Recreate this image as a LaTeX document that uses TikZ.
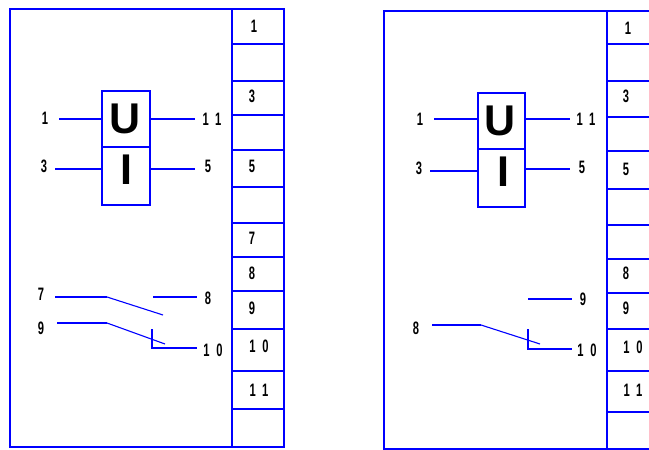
\documentclass[tikz,border=0pt]{standalone}
\usepackage{fontspec}
\setmainfont{Liberation Sans}
\newfontfamily\twodig[LetterSpace=62]{Liberation Sans}
\begin{document}
\begin{tikzpicture}[x=1pt,y=-1pt,
  wire/.style={draw=blue,line width=1.4pt},
  thinwire/.style={draw=blue,line width=1.1pt},
  lab/.style={inner sep=0pt,text=black,font=\bfseries\fontsize{18}{18}\selectfont,xscale=.62},
  labtwo/.style={inner sep=0pt,text=black,font=\twodig\bfseries\fontsize{18}{18}\selectfont,xscale=.62},
  big/.style={inner sep=0pt,text=black,font=\bfseries\fontsize{43}{43}\selectfont},
  frame/.style={wire,fill=none,rectangle,inner sep=0pt},
  pin/.style={coordinate}]
\useasboundingbox (0,0) rectangle (649,450);
% ---------- left unit ----------
\node[frame,minimum width=274pt,minimum height=438pt] (LO) at (147,228) {};
\draw[wire] (232,9) -- (232,447);
\foreach \y [count=\i] in {44,81,115,150,187,223,257,291,329,371,409}
  \draw[wire] (232,\y) -- (284,\y);
\node[lab] (La) at (254,26) {1};
\node[lab] (Lb) at (252,96) {3};
\node[lab] (Lc) at (252,166) {5};
\node[lab] (Ld) at (252,238) {7};
\node[lab] (Le) at (252,273) {8};
\node[lab] (Lf) at (252,308) {9};
\node[labtwo] (Lg) at (259,346) {10};
\node[labtwo] (Lh) at (259,390) {11};
\node[frame,minimum width=48pt,minimum height=56pt] (LU) at (126,119) {};
\node[frame,minimum width=48pt,minimum height=58pt] (LI) at (126,176) {};
\node[big] (LUt) at (125,119) {U};
\node[big] (LIt) at (126,170) {I};
\node[lab] (Lp1) at (45,118) {1};
\node[lab] (Lp3) at (44,166) {3};
\node[labtwo] (Lp11) at (212,119) {11};
\node[lab] (Lp5) at (208,166) {5};
\coordinate (La1) at (59,119); \coordinate (La3) at (55,169);
\coordinate (La11) at (195,119); \coordinate (La5) at (195,169);
\coordinate (LI1) at (LI.west |- La3); \coordinate (LI2) at (LI.east |- La5);
\draw[wire] (La1) -- (LU.west);
\draw[wire] (La3) -- (LI1);
\draw[wire] (LU.east) -- (La11);
\draw[wire] (LI2) -- (La5);
\node[lab] (Ls7) at (41,294) {7};
\node[lab] (Ls8) at (208,298) {8};
\node[lab] (Ls9) at (41,328) {9};
\node[labtwo] (Ls10) at (213,350) {10};
\draw[wire] (55,297) coordinate (Lw7) -- (107,297) coordinate (Lk7);
\draw[thinwire] (Lk7) -- (163,315);
\draw[wire] (153,297) coordinate (Lw8a) -- (197,297) coordinate (Lw8b);
\draw[wire] (57,323) coordinate (Lw9) -- (107,323) coordinate (Lk9);
\draw[thinwire] (Lk9) -- (165,344);
\draw[wire] (152,329) coordinate (Lc1) -- (152,348) coordinate (Lc2) -- (197,348) coordinate (Lc3);
% ---------- right unit ----------
\draw[wire] (649,11) -- (384,11) -- (384,449) -- (649,449);
\draw[wire] (607,11) -- (607,449);
\foreach \y in {44,81,117,151,189,225,259,293,329,371,412}
  \draw[wire] (607,\y) -- (649,\y);
\node[lab] (Ra) at (628,28) {1};
\node[lab] (Rb) at (626,96) {3};
\node[lab] (Rc) at (626,169) {5};
\node[lab] (Re) at (626,273) {8};
\node[lab] (Rf) at (626,308) {9};
\node[labtwo] (Rg) at (633,347) {10};
\node[labtwo] (Rh) at (633,390) {11};
\node[frame,minimum width=47pt,minimum height=56pt] (RU) at (501.5,121) {};
\node[frame,minimum width=47pt,minimum height=58pt] (RI) at (501.5,178) {};
\node[big] (RUt) at (500,121) {U};
\node[big] (RIt) at (503,172) {I};
\node[lab] (Rp1) at (420,119) {1};
\node[lab] (Rp3) at (419,168) {3};
\node[labtwo] (Rp11) at (586,119) {11};
\node[lab] (Rp5) at (582,167) {5};
\coordinate (Ra1) at (434,119); \coordinate (Ra3) at (430,171);
\coordinate (Ra11) at (570,119); \coordinate (Ra5) at (570,169);
\coordinate (RU1) at (RU.west |- Ra1); \coordinate (RU2) at (RU.east |- Ra11);
\coordinate (RI1) at (RI.west |- Ra3); \coordinate (RI2) at (RI.east |- Ra5);
\draw[wire] (Ra1) -- (RU1);
\draw[wire] (Ra3) -- (RI1);
\draw[wire] (RU2) -- (Ra11);
\draw[wire] (RI2) -- (Ra5);
\node[lab] (Rs9) at (583,299) {9};
\node[lab] (Rs8) at (416,328) {8};
\node[labtwo] (Rs10) at (587,350) {10};
\draw[wire] (528,299) coordinate (Rw9a) -- (572,299) coordinate (Rw9b);
\draw[wire] (432,325) coordinate (Rw8) -- (481,325) coordinate (Rk8);
\draw[thinwire] (Rk8) -- (540,344);
\draw[wire] (528,329) coordinate (Rc1) -- (528,349) coordinate (Rc2) -- (572,349) coordinate (Rc3);
\end{tikzpicture}
\end{document}
